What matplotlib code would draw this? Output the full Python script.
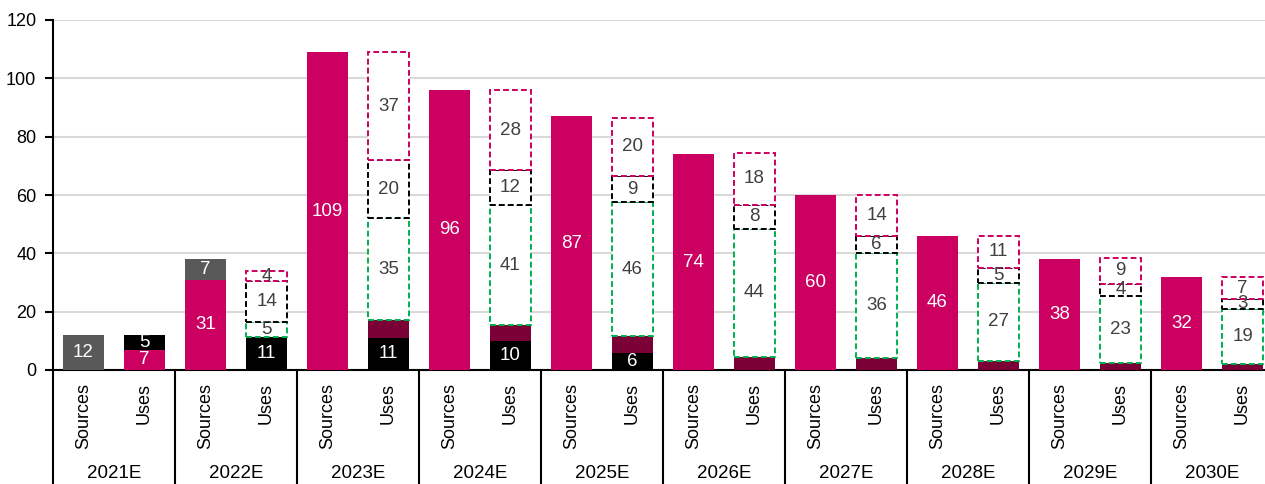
import matplotlib
matplotlib.use("Agg")
import matplotlib.pyplot as plt
from matplotlib import font_manager
from matplotlib.lines import Line2D
import matplotlib.transforms as mtransforms

names = {f.name for f in font_manager.fontManager.ttflist}
NARROW = 'Liberation Sans Narrow' in names
FAM = ['Liberation Sans Narrow', 'Liberation Sans', 'DejaVu Sans'] if NARROW else ['Liberation Sans', 'DejaVu Sans']
plt.rcParams['font.family'] = FAM

# ---- data ----
years = ['2021E', '2022E', '2023E', '2024E', '2025E', '2026E', '2027E', '2028E', '2029E', '2030E']
sub_labels = ['Sources', 'Uses']
sources_pink = [0, 31, 109, 96, 87, 74, 60, 46, 38, 32]
sources_gray = [12, 7, 0, 0, 0, 0, 0, 0, 0, 0]
uses_pink = [7, 0, 0, 0, 0, 0, 0, 0, 0, 0]
uses_black = [5, 11.4, 11, 10, 6, 0, 0, 0, 0, 0]
uses_maroon = [0, 0, 6, 5.5, 5.5, 4.5, 4, 3, 2.5, 2]
uses_green = [0, 5, 35, 41, 46, 44, 36, 27, 23, 19]
uses_blackdash = [0, 14, 20, 12, 9, 8, 6, 5, 4, 3.4]
uses_pinkdash = [0, 3.6, 37, 27.5, 20, 18, 14, 11, 9, 7.4]
yticks = [0, 20, 40, 60, 80, 100, 120]

PINK = '#CC0060'
GRAY = '#595959'
MAROON = '#7A0035'
GREEN = '#00B050'
TXT = '#404040'
FS = 15 if NARROW else 13.5
FS_ROT = 15 if NARROW else 13
FS_TICK = 14 if NARROW else 13
FS_YEAR = 15 if NARROW else 13.5

W, H = 1265, 484
fig = plt.figure(figsize=(W / 100, H / 100), dpi=100)
ax = fig.add_axes([53 / W, 114 / H, 1220 / W, 350 / H])

n = len(years)
xs_src = [2 * i for i in range(n)]
xs_use = [2 * i + 1 for i in range(n)]
bw = 0.66

def label_seg(x, bottom, val, color):
    if val >= 1:
        ax.text(x, bottom + val / 2, f"{val:.0f}", ha='center', va='center',
                color=color, fontsize=FS, zorder=5)

# Sources
b = [0] * n
for vals, col in [(sources_pink, PINK), (sources_gray, GRAY)]:
    ax.bar(xs_src, vals, bw, bottom=b, color=col, zorder=3, linewidth=0)
    for i in range(n):
        label_seg(xs_src[i], b[i], vals[i], 'white')
    b = [b[i] + vals[i] for i in range(n)]

# Uses solid
b = [0] * n
for vals, col, lab in [(uses_pink, PINK, True), (uses_black, 'black', True), (uses_maroon, MAROON, False)]:
    ax.bar(xs_use, vals, bw, bottom=b, color=col, zorder=3, linewidth=0)
    if lab:
        for i in range(n):
            label_seg(xs_use[i], b[i], vals[i], 'white')
    b = [b[i] + vals[i] for i in range(n)]

# Uses dashed
for vals, col in [(uses_green, GREEN), (uses_blackdash, 'black'), (uses_pinkdash, PINK)]:
    for i in range(n):
        if vals[i] > 0:
            ax.bar(xs_use[i], vals[i], bw, bottom=b[i], facecolor='white', edgecolor=col,
                   linewidth=1.4, linestyle=(0, (3, 1.6)), zorder=4)
            label_seg(xs_use[i], b[i], vals[i], TXT)
    b = [b[i] + vals[i] for i in range(n)]

ax.set_xlim(-0.5, 2 * n - 0.5)
ax.set_ylim(0, 120)
ax.set_yticks(yticks)
ax.tick_params(axis='y', direction='out', length=6, width=1.5, labelsize=FS_TICK, pad=6)
ax.yaxis.grid(True, color='#D9D9D9', linewidth=1.5, zorder=0)
ax.set_axisbelow(True)
ax.set_xticks([])
for s in ['top', 'right']:
    ax.spines[s].set_visible(False)
ax.spines['left'].set_linewidth(1.5)
ax.spines['bottom'].set_linewidth(1.5)

# category table below axis
trans = mtransforms.blended_transform_factory(ax.transData, ax.transAxes)
px = 1 / 350.0
for i in range(n + 1):
    xb = 2 * i - 0.5
    ax.add_line(Line2D([xb, xb], [0, -120 * px], transform=trans, color='black',
                       linewidth=1.5, clip_on=False))
for i in range(n):
    ax.text(xs_src[i], -13 * px, sub_labels[0], rotation=90, ha='center', va='top',
            fontsize=FS_ROT, transform=trans)
    ax.text(xs_use[i], -13 * px, sub_labels[1], rotation=90, ha='center', va='top',
            fontsize=FS_ROT, transform=trans)
    ax.text(2 * i + 0.5, -104 * px, years[i], ha='center', va='center',
            fontsize=FS_YEAR, transform=trans)

fig.savefig('out.png', dpi=100)
